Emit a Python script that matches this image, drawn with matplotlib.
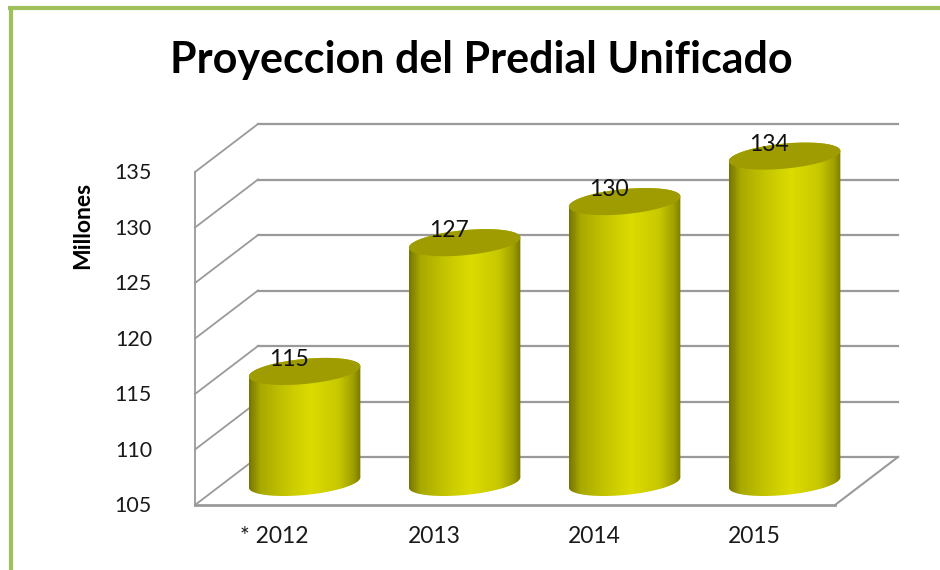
import numpy as np
import matplotlib
matplotlib.use("Agg")
import matplotlib.pyplot as plt
from matplotlib.colors import LinearSegmentedColormap
from matplotlib.patches import Polygon

categories = ["* 2012", "2013", "2014", "2015"]
values = [115.0, 126.6, 130.3, 134.4]
y_ticks = [105, 110, 115, 120, 125, 130, 135]

title = "Proyeccion del Predial Unificado"
y_label = "Millones"

plt.rcParams['font.family'] = ['Lato', 'DejaVu Sans']

# scale of the chart: pixels per category and pixels per unit
PX_X = 160.0
PX_Y = 11.1
DEPTH_X = 63 / PX_X
DEPTH_Y = 48 / PX_Y
BAR_DEPTH = 0.47
GREY = "#9a9a9a"

fig = plt.figure(figsize=(9.4, 5.7), dpi=100)
ax = fig.add_axes([0, 0, 1, 1])
ax.set_xlim(-275 / PX_X, 665 / PX_X)
ax.set_ylim(105 - 65 / PX_Y, 105 + 505 / PX_Y)
ax.axis("off")

# green frame, left and top only
fig.add_artist(plt.Line2D([0.0112, 0.0112], [0, 0.9895], color="#9fc05a", lw=3.0, solid_capstyle="butt"))
fig.add_artist(plt.Line2D([0.0090, 1], [0.9860, 0.9860], color="#9fc05a", lw=3.0, solid_capstyle="butt"))

x_left = -0.5
x_right = len(categories) - 0.5
y_min = y_ticks[0]
y_max = y_ticks[-1]

# back wall and side wall grid
for t in y_ticks:
    ax.plot([x_left + DEPTH_X, x_right + DEPTH_X], [t + DEPTH_Y, t + DEPTH_Y], color=GREY, lw=1.6, zorder=1)
    ax.plot([x_left, x_left + DEPTH_X], [t, t + DEPTH_Y], color=GREY, lw=1.3, zorder=1)

# floor and front axis
ax.plot([x_left, x_left], [y_min, y_max], color=GREY, lw=1.3, zorder=1)
ax.plot([x_left, x_right], [y_min, y_min], color=GREY, lw=2.0, zorder=1)
ax.plot([x_right, x_right + DEPTH_X], [y_min, y_min + DEPTH_Y], color=GREY, lw=1.5, zorder=1)

# shading across the cylinder body
body_cmap = LinearSegmentedColormap.from_list("body", [
    (0.00, "#757500"),
    (0.10, "#a8a800"),
    (0.30, "#c2c200"),
    (0.55, "#dcdc00"),
    (0.80, "#c8c800"),
    (0.93, "#a0a000"),
    (1.00, "#787800"),
])
gradient = np.linspace(0, 1, 256).reshape(1, -1)


def ellipse_outline(cx, cy, t):
    # tilted ellipse, worked out in pixels then put back in data units
    a, b, tilt = 56.0, 12.5, np.radians(5.5)
    px = a * np.cos(t) * np.cos(tilt) - b * np.sin(t) * np.sin(tilt)
    py = a * np.cos(t) * np.sin(tilt) + b * np.sin(t) * np.cos(tilt)
    return cx + px / PX_X, cy + py / PX_Y


for i, v in enumerate(values):
    cx = i + BAR_DEPTH * DEPTH_X
    base = y_min + BAR_DEPTH * DEPTH_Y
    top = v + BAR_DEPTH * DEPTH_Y

    t_low = np.linspace(np.pi, 2 * np.pi, 80)
    t_up = np.linspace(0, np.pi, 80)
    bx, by = ellipse_outline(cx, base, t_low)
    tx, ty = ellipse_outline(cx, top, t_up)
    body = Polygon(np.column_stack([np.r_[bx, tx], np.r_[by, ty]]), closed=True,
                   facecolor="none", edgecolor="none", transform=ax.transData, zorder=3)
    ax.add_patch(body)
    im = ax.imshow(gradient, cmap=body_cmap, aspect="auto", zorder=3,
                   extent=[cx - 56 / PX_X, cx + 56 / PX_X, base - 2, top + 2])
    im.set_clip_path(body)

    cap_x, cap_y = ellipse_outline(cx, top, np.linspace(0, 2 * np.pi, 160))
    ax.fill(cap_x, cap_y, color="#9e9c00", lw=0, zorder=4)

    ax.text(cx - 16 / PX_X, top + 12 / PX_Y, f"{v:.0f}", ha="center", va="center",
            fontsize=16.5, color="#111111", zorder=5)

# y tick labels
for t in y_ticks:
    ax.text(x_left - 43 / PX_X, t - 1 / PX_Y, str(t), ha="right", va="center", fontsize=15.5, color="#1a1a1a")

# category labels
for i, c in enumerate(categories):
    ax.text(i - 1 / PX_X, y_min - 31 / PX_Y, c, ha="center", va="center", fontsize=16.5, color="#1a1a1a")

ax.text(x_left - 112 / PX_X, 135 - 53 / PX_Y * 1, y_label, rotation=90, ha="center", va="center",
        fontsize=16.5, fontweight="bold", color="black")

fig.text(481 / 940, 1 - 60 / 570, title, ha="center", va="center", fontsize=31, fontweight="bold", color="black")

fig.savefig("out.png", dpi=100)
